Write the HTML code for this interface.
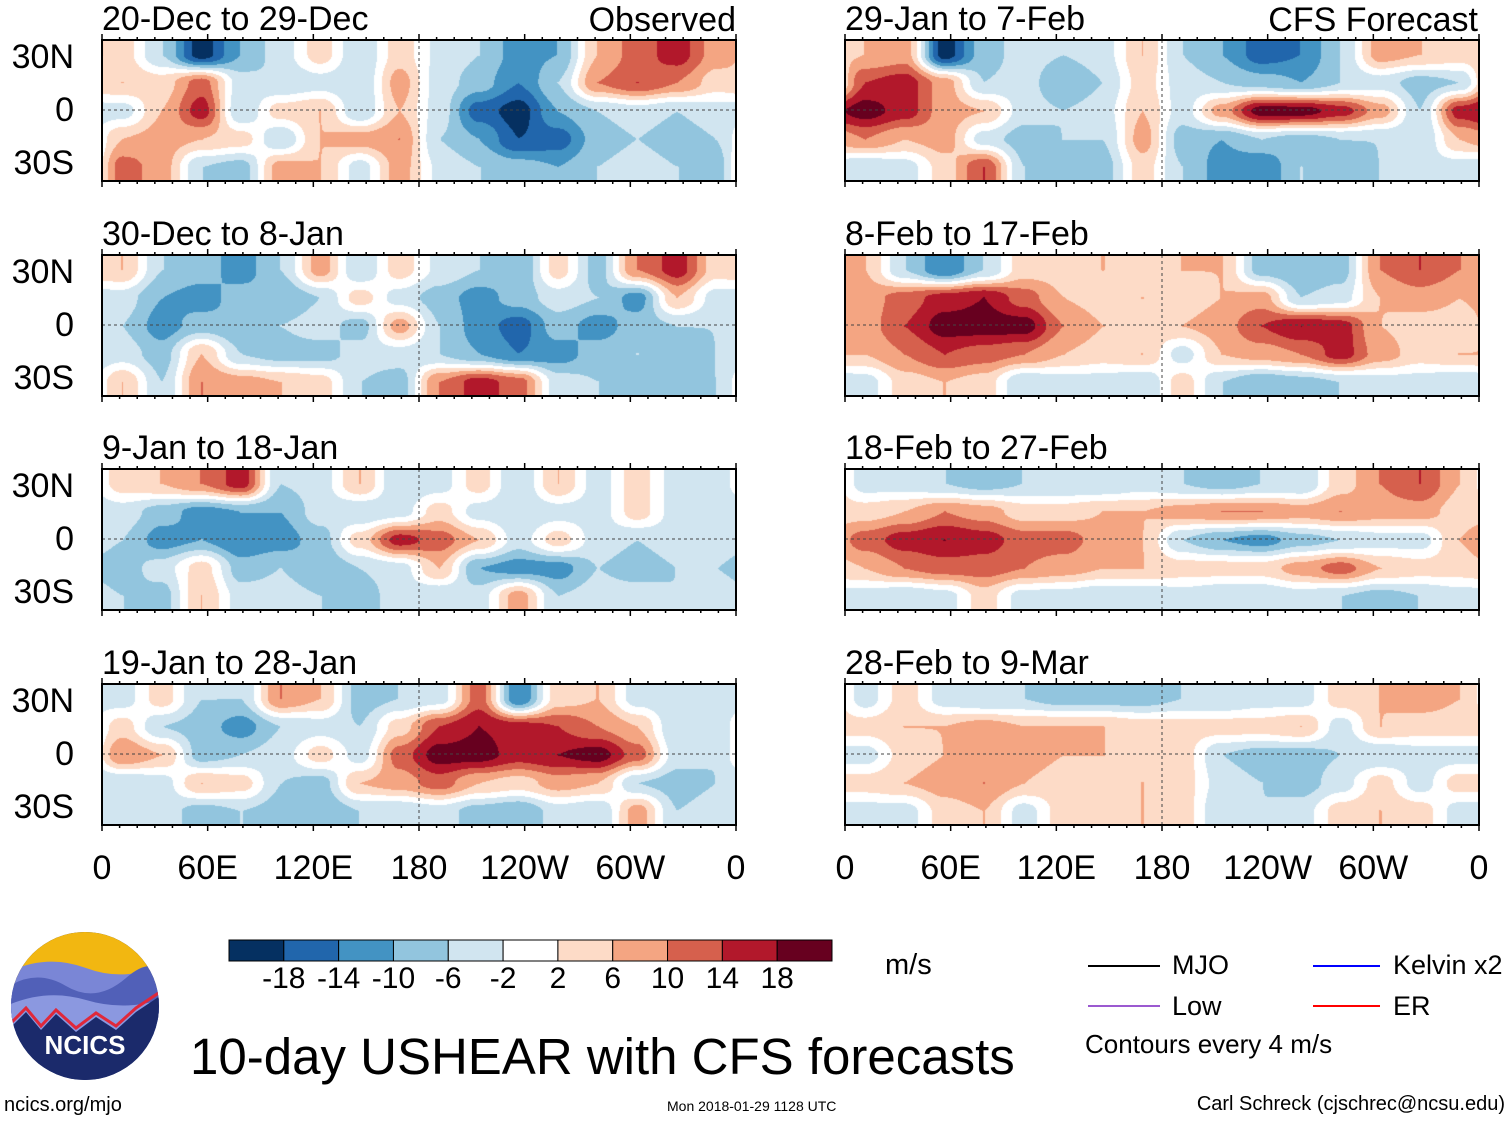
<!DOCTYPE html>
<html><head><meta charset="utf-8">
<style>
body{margin:0;background:#fff;width:1510px;height:1121px;overflow:hidden;position:relative;font-family:"Liberation Sans",sans-serif;}
.t{position:absolute;white-space:nowrap;color:#000;line-height:1;}
canvas{position:absolute;left:0;top:0;}
</style></head><body>
<canvas id="cv" width="1510" height="1121"></canvas>
<svg id="ov" width="1510" height="1121" style="position:absolute;left:0;top:0"></svg>
<div id="labels"></div>

<div class="t" style="left:885px;top:951px;font-size:29px">m/s</div>
<div class="t" style="left:1172px;top:952px;font-size:27px">MJO</div>
<div class="t" style="left:1172px;top:993px;font-size:27px">Low</div>
<div class="t" style="left:1393px;top:952px;font-size:27px">Kelvin x2</div>
<div class="t" style="left:1393px;top:993px;font-size:27px">ER</div>
<div class="t" style="left:1085px;top:1031px;font-size:26px">Contours every 4 m/s</div>
<div class="t" style="left:190px;top:1031px;font-size:51px">10-day USHEAR with CFS forecasts</div>
<div class="t" style="left:4px;top:1095px;font-size:20px">ncics.org/mjo</div>
<div class="t" style="left:667px;top:1099px;font-size:14px">Mon 2018-01-29 1128 UTC</div>
<div class="t" style="right:5px;top:1094px;font-size:20px">Carl Schreck (cjschrec@ncsu.edu)</div>

<svg width="160" height="160" style="position:absolute;left:6px;top:928px">
<defs><clipPath id="cc"><circle cx="79" cy="78" r="74"/></clipPath></defs>
<g clip-path="url(#cc)">
<rect x="0" y="0" width="160" height="160" fill="#1b2a6b"/>
<rect x="0" y="0" width="160" height="60" fill="#f2b711"/>
<path d="M0 45 Q40 25 80 40 T160 35 V90 H0Z" fill="#7a86d6"/>
<path d="M0 60 Q30 40 60 58 T120 50 T160 55 V100 H0Z" fill="#5160b8"/>
<path d="M0 78 Q40 60 80 72 T160 70 V110 H0Z" fill="#8b98e0"/>
<path d="M0 100 L20 80 L35 98 L50 82 L70 100 L90 85 L110 98 L130 80 L160 60" stroke="#e0283a" stroke-width="3" fill="none"/>
<path d="M0 104 L20 84 L35 102 L50 86 L70 104 L90 89 L110 102 L130 84 L160 64 V160 H0Z" fill="#1b2a6b"/>
</g>
<text x="79" y="126" text-anchor="middle" fill="#fff" font-family="Liberation Sans" font-weight="bold" font-size="26">NCICS</text>
</svg>

<script>
const levels=[-18,-14,-10,-6,-2,2,6,10,14,18];
const colors=["#053061","#2166ac","#4393c3","#92c5de","#d1e5f0","#ffffff","#fddbc7","#f4a582","#d6604d","#b2182b","#67001f"];
const cbLabels=["-18","-14","-10","-6","-2","2","6","10","14","18"];
const xTickLabels=["0","60E","120E","180","120W","60W","0"];
const latLabels=["30N","0","30S"];
const titles=["20-Dec to 29-Dec","30-Dec to 8-Jan","9-Jan to 18-Jan","19-Jan to 28-Jan","29-Jan to 7-Feb","8-Feb to 17-Feb","18-Feb to 27-Feb","28-Feb to 9-Mar"];
// gridded shear values (rows 35N,15N,0,15S,35S; 16 cols from 0E eastward)
const p1=[[4,-6,-20,-10,-4,4,-6,4,-3,-6,-12,-10,6,12,16,8],[6,4,12,-4,-6,-4,-6,8,-4,-8,-14,-6,10,14,10,4],[-4,6,16,-6,4,6,-6,6,-4,-16,-20,-10,-6,-4,-6,-4],[6,8,6,4,-6,6,8,10,-6,-10,-18,-16,-8,-6,-8,-6],[12,8,-6,-8,8,6,-4,8,-3,-6,-8,-10,-6,-4,-6,-8]];
const p2=[[6,-6,-8,-12,-6,8,-6,4,-3,-6,-10,4,-8,10,16,4],[-4,-10,-12,-8,-10,-6,4,-4,-8,-12,-8,-4,-6,-12,6,-4],[-6,-12,-8,-10,-6,-4,-8,8,-6,-12,-16,-8,-12,-8,-6,-6],[-4,-8,6,-6,-8,-8,-4,-4,-6,-10,-14,-12,-8,-6,-8,-6],[6,-6,10,8,6,4,-6,-8,10,16,12,-4,-6,-8,-10,-6]];
const p3=[[4,6,10,16,-6,-4,6,-6,-4,4,-6,6,-4,4,-4,-4],[-4,-8,-12,-10,-10,-4,-6,-4,4,-4,-6,-4,-4,4,-4,-6],[-6,-12,-10,-14,-12,-8,4,16,12,6,-4,4,-4,-6,-4,-4],[-8,-4,4,-8,-6,-10,-6,-4,6,-10,-12,-12,-6,-8,-6,-6],[-6,-8,6,-4,-4,-6,-8,-4,-6,-4,8,-6,-4,-4,-6,-4]];
const p4=[[-4,4,-6,-6,10,6,-8,-6,-4,12,-14,4,6,-4,-6,-4],[4,-6,-8,-12,-6,-4,-6,4,14,18,16,14,10,6,-6,-4],[10,6,-8,-6,-4,4,-4,12,20,20,16,18,20,12,-4,-6],[-6,-4,6,4,-6,-8,6,8,12,6,4,8,6,-6,-8,-6],[-6,-4,-8,-6,-8,-10,-6,-6,-4,-8,-10,-4,-6,8,-6,-4]];
const p5=[[6,8,-20,-8,-4,-6,-4,6,-6,-10,-16,-14,-6,8,6,4],[14,16,8,-6,-4,-10,-6,4,-4,-6,-8,-10,-6,-4,-8,-6],[20,16,8,6,-4,-6,-4,6,-4,8,20,20,16,8,-6,16],[10,6,8,-4,-8,-6,-6,8,-8,-10,-6,-8,-6,-6,-6,6],[-6,-4,4,14,-6,-8,-8,4,-6,-12,-14,-6,-8,-6,-4,-4]];
const p6=[[6,-6,-14,-6,4,4,6,4,6,6,-8,-10,-8,10,14,10],[8,12,16,18,12,6,4,6,4,6,8,-6,-4,6,8,6],[8,14,20,20,20,10,6,4,6,8,14,18,16,6,4,4],[6,10,14,12,10,6,4,6,-4,6,8,10,16,8,4,6],[-4,4,6,4,-6,-4,-4,-6,4,-6,-10,-8,-6,-4,-4,-6]];
const p7=[[-4,-4,-6,-8,-6,-6,-6,-4,-6,-8,-6,-6,4,10,14,6],[4,6,10,8,4,4,6,6,8,10,10,8,10,8,8,4],[12,16,18,16,12,12,8,6,-6,-10,-12,-8,-6,-4,-4,6],[6,10,12,12,10,8,6,6,4,4,4,8,12,6,4,4],[-4,-6,-4,4,-4,-4,-6,-6,-4,-6,-6,-4,-6,-8,-6,-4]];
const p8=[[-4,4,-4,-6,-6,-8,-8,-8,-6,-6,-4,-4,4,6,8,6],[4,6,6,8,6,6,6,4,4,4,4,6,-4,6,4,4],[-4,4,6,8,8,6,6,4,4,-6,-8,-8,-6,-6,-4,-4],[4,6,8,10,6,4,4,6,4,-4,-6,-8,-4,4,-4,4],[-4,-4,4,6,-4,4,4,6,4,-6,-6,-4,4,6,4,-4]];
const panelsData=[p1,p2,p3,p4,p5,p6,p7,p8];

const colX=[102,845], PW=634, rowY=[40,255,469,684], PH=141;
function hex(c){return [parseInt(c.slice(1,3),16),parseInt(c.slice(3,5),16),parseInt(c.slice(5,7),16)];}
const rgb=colors.map(hex);
function idx(v){let i=0;while(i<levels.length&&v>=levels[i])i++;return i;}
function sm(t){return t*t*(3-2*t);}
function sample(g,fx,fy){
  const nc=g[0].length,nr=g.length;
  let x=fx-0.5,y=Math.min(Math.max(fy-0.5,0),nr-1);
  let x0=Math.floor(x),tx=sm(x-x0);let y0=Math.floor(y),ty=sm(y-y0);
  const xa=((x0%nc)+nc)%nc, xb=(xa+1)%nc, yb=Math.min(y0+1,nr-1);
  const a=g[y0][xa]*(1-tx)+g[y0][xb]*tx, b=g[yb][xa]*(1-tx)+g[yb][xb]*tx;
  return a*(1-ty)+b*ty+0.01;
}
const cv=document.getElementById('cv'),ctx=cv.getContext('2d');
ctx.fillStyle='#fff';ctx.fillRect(0,0,1510,1121);
panelsData.forEach((g,p)=>{
  const px=colX[p<4?0:1],py=rowY[p%4];
  const img=ctx.createImageData(PW,PH);
  for(let j=0;j<PH;j++)for(let i=0;i<PW;i++){
    const v=sample(g,i/PW*16,j/PH*5);const c=rgb[idx(v)];const k=(j*PW+i)*4;
    img.data[k]=c[0];img.data[k+1]=c[1];img.data[k+2]=c[2];img.data[k+3]=255;}
  ctx.putImageData(img,px,py);
});
const NS='http://www.w3.org/2000/svg',ov=document.getElementById('ov'),lab=document.getElementById('labels');
function el(tag,at){const e=document.createElementNS(NS,tag);for(const k in at)e.setAttribute(k,at[k]);ov.appendChild(e);return e;}
function txt(s,x,y,fs,anchor){const d=document.createElement('div');d.className='t';d.textContent=s;d.style.fontSize=fs+'px';d.style.top=(y-fs*0.5)+'px';
  if(anchor==='end'){d.style.right=(1510-x)+'px';}else if(anchor==='middle'){d.style.left=x+'px';d.style.transform='translateX(-50%)';}else d.style.left=x+'px';lab.appendChild(d);return d;}
panelsData.forEach((g,p)=>{
  const px=colX[p<4?0:1],py=rowY[p%4];
  const eq=el('line',{x1:px,x2:px+PW,y1:py+70,y2:py+70,stroke:'#444','stroke-dasharray':'3,3','stroke-width':1});
  
  const dl=el('line',{x1:px+PW/2,x2:px+PW/2,y1:py,y2:py+PH,stroke:'#444','stroke-dasharray':'3,3','stroke-width':1});
  
  for(let l=0;l<=36;l++){const x=px+PW*l/36;const len=l%6==0?6:3;
    el('line',{x1:x,x2:x,y1:py-len,y2:py,stroke:'#000','stroke-width':1.5});
    el('line',{x1:x,x2:x,y1:py+PH,y2:py+PH+len,stroke:'#000','stroke-width':1.5});}
  const fr=el('rect',{x:px,y:py,width:PW,height:PH,fill:'none',stroke:'#000','stroke-width':2});
  
  const t=txt(titles[p],px,py-21,34,'start');
  
  if(p<4){latLabels.forEach((s,k)=>{const d=txt(s,74,py+17+53*k,34,'end');
    });}
});
let d=txt('Observed',736,20,34,'end');
d=txt('CFS Forecast',1478,20,34,'end');
colX.forEach(cx=>{xTickLabels.forEach((s,k)=>{const x=cx+PW*k/6;const t=txt(s,x,868,34,'middle');
  });});
const cbX=229,cbW=603,cbY=940,cbH=21;
colors.forEach((c,i)=>{const r=el('rect',{x:cbX+cbW*i/11,y:cbY,width:cbW/11,height:cbH,fill:c,stroke:'#000','stroke-width':1});
  });
cbLabels.forEach((s,i)=>{const t=txt(s,cbX+cbW*(i+1)/11,979,30,'middle');
  });
[[1088,1160,966,'#000','legend-line-mjo'],[1088,1160,1006,'#9b59d0','legend-line-low'],[1313,1380,966,'#0000ff','legend-line-kelvin'],[1313,1380,1006,'#ff0000','legend-line-er']].forEach(a=>{
  const l=el('line',{x1:a[0],x2:a[1],y1:a[2],y2:a[2],stroke:a[3],'stroke-width':2});
  });
</script>
</body></html>
